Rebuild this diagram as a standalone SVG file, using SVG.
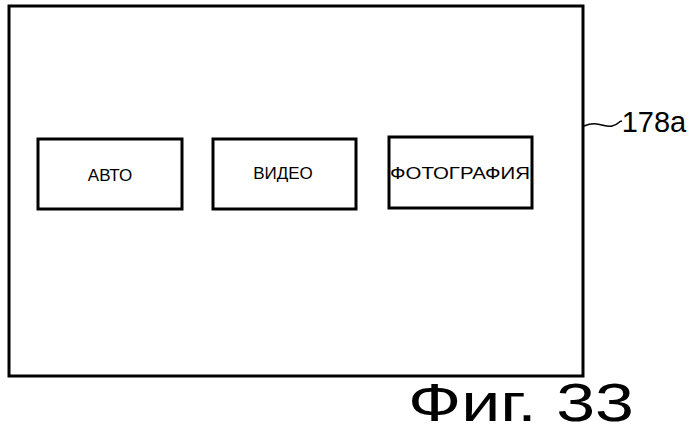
<svg xmlns="http://www.w3.org/2000/svg" width="700" height="439" viewBox="0 0 700 439">
<style>
.b{fill:#fff;stroke:#000;stroke-width:3}
.t{font-family:"Liberation Sans",Arial,sans-serif;fill:#000;text-anchor:middle}
</style>
<rect width="700" height="439" fill="#fff"/>
<g id="screen"><rect class="b" x="9" y="6" width="574" height="370"/></g>
<g id="auto"><rect class="b" x="38" y="139" width="144" height="70"/><text class="t" x="110" y="181" font-size="17">АВТО</text></g>
<g id="video"><rect class="b" x="213" y="139" width="143" height="70"/><text class="t" x="283" y="179" font-size="17">ВИДЕО</text></g>
<g id="photo"><rect class="b" x="389" y="137" width="143" height="71"/><text class="t" x="460" y="179" font-size="17" textLength="140" lengthAdjust="spacingAndGlyphs">ФОТОГРАФИЯ</text></g>
<g id="connectors"><path d="M584 126 C598 120 604 128 612 126 S618 121 622 121" fill="none" stroke="#000" stroke-width="1.5"/></g>
<g id="label"><text class="t" x="654" y="132" font-size="29">178a</text></g>
<text class="t" x="521" y="421" font-size="53" textLength="226" lengthAdjust="spacingAndGlyphs">Фиг. 33</text>
</svg>
